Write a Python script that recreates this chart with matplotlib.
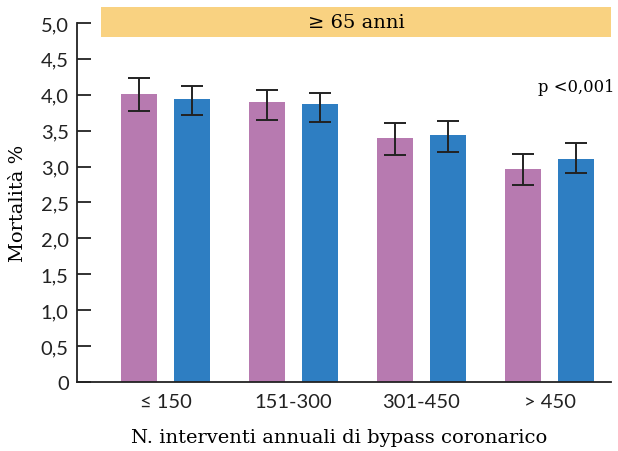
import numpy as np
import matplotlib
matplotlib.use('Agg')
import matplotlib.pyplot as plt
import matplotlib.transforms as mtransforms

# Data
groups = ['≤ 150', '151-300', '301-450', '> 450']
pink_vals = [4.01, 3.90, 3.40, 2.97]
pink_lo = [3.78, 3.65, 3.16, 2.74]
pink_hi = [4.23, 4.07, 3.61, 3.18]
blue_vals = [3.94, 3.87, 3.44, 3.11]
blue_lo = [3.72, 3.62, 3.20, 2.91]
blue_hi = [4.12, 4.02, 3.63, 3.33]
yticks = [0, 0.5, 1.0, 1.5, 2.0, 2.5, 3.0, 3.5, 4.0, 4.5, 5.0]
ytick_labels = ['0', '0,5', '1,0', '1,5', '2,0', '2,5', '3,0', '3,5', '4,0', '4,5', '5,0']

pink = '#B77AB0'
blue = '#2E7EC2'
yellow = '#F9D281'
serif = 'DejaVu Serif'
sans = 'Lato'

fig = plt.figure(figsize=(6.18, 4.52), dpi=100)
ax = fig.add_axes([77/618, 69/452, 534/618, 377/452])

x = np.arange(len(groups))
w = 0.28
off = 0.207

err_kw = dict(ecolor='#222222', elinewidth=1.4, capsize=8, capthick=1.4)
pe = [np.array(pink_vals) - np.array(pink_lo), np.array(pink_hi) - np.array(pink_vals)]
be = [np.array(blue_vals) - np.array(blue_lo), np.array(blue_hi) - np.array(blue_vals)]
ax.bar(x - off, pink_vals, w, color=pink, yerr=pe, error_kw=err_kw, zorder=2)
ax.bar(x + off, blue_vals, w, color=blue, yerr=be, error_kw=err_kw, zorder=2)

ax.set_xlim(-0.691, 3.48)
ax.set_ylim(0, 5.25)

# age band on top
ax.axhspan(4.80, 5.22, xmin=24/534, xmax=1, color=yellow, lw=0, zorder=1)
ax.text(1.49, 5.01, '≥ 65 anni', ha='center', va='center', fontsize=14, family=serif)
ax.text(3.51, 4.12, 'p <0,001', ha='right', va='center', fontsize=11.8, family=serif)

ax.spines['top'].set_visible(False)
ax.spines['right'].set_visible(False)
ax.spines['left'].set_bounds(0, 5.0)
for s in ['left', 'bottom']:
    ax.spines[s].set_linewidth(1.3)
    ax.spines[s].set_color('#222222')

ax.set_yticks(yticks)
ax.set_yticklabels(ytick_labels, family=sans, fontsize=14.5, color='#222222')
ax.tick_params(axis='y', direction='in', length=10, width=1.3, color='#222222', pad=6)
ax.set_xticks(x)
ax.set_xticklabels(groups, family=sans, fontsize=14.5, color='#222222')
ax.tick_params(axis='x', length=0, pad=8)

ax.set_ylabel('Mortalità %', family=serif, fontsize=14)
ax.yaxis.set_label_coords(-0.093, 2.5,
                          transform=mtransforms.blended_transform_factory(ax.transAxes, ax.transData))
ax.set_xlabel('N. interventi annuali di bypass coronarico', family=serif, fontsize=14)
ax.xaxis.set_label_coords(0.4916, -0.122)

fig.savefig('out.png', dpi=100)
